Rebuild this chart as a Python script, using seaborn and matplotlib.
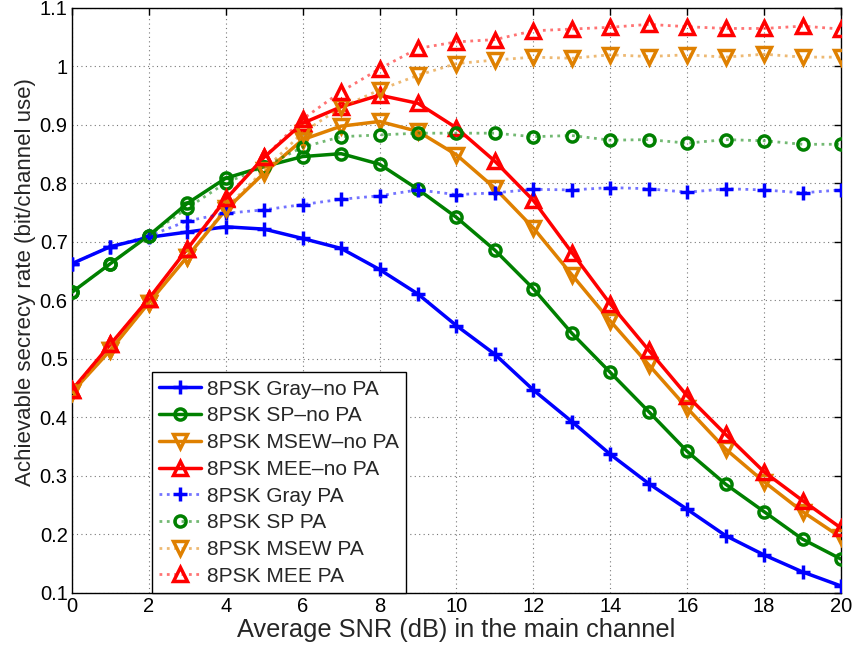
import numpy as np
import pandas as pd
import matplotlib
matplotlib.use("Agg")
import matplotlib.pyplot as plt
import seaborn as sns

snr = list(range(0, 21))

gray_nopa = [0.663, 0.692, 0.708, 0.717, 0.726, 0.722, 0.706, 0.689, 0.653, 0.611, 0.557,
             0.508, 0.447, 0.393, 0.337, 0.287, 0.243, 0.198, 0.165, 0.136, 0.112]
sp_nopa = [0.614, 0.663, 0.711, 0.766, 0.809, 0.829, 0.846, 0.851, 0.833, 0.790, 0.742,
           0.686, 0.620, 0.544, 0.477, 0.410, 0.342, 0.286, 0.239, 0.192, 0.158]
msew_nopa = [0.443, 0.515, 0.596, 0.675, 0.755, 0.818, 0.875, 0.898, 0.906, 0.889, 0.849,
             0.792, 0.724, 0.644, 0.565, 0.490, 0.416, 0.346, 0.290, 0.239, 0.195]
mee_nopa = [0.447, 0.525, 0.603, 0.688, 0.773, 0.845, 0.903, 0.931, 0.951, 0.937, 0.895,
            0.838, 0.771, 0.682, 0.594, 0.515, 0.437, 0.371, 0.307, 0.258, 0.211]
gray_pa = [0.663, 0.692, 0.710, 0.736, 0.749, 0.755, 0.764, 0.773, 0.779, 0.789, 0.781,
           0.784, 0.790, 0.789, 0.793, 0.791, 0.785, 0.791, 0.789, 0.784, 0.789]
sp_pa = [0.614, 0.663, 0.711, 0.758, 0.801, 0.829, 0.862, 0.880, 0.883, 0.886, 0.886,
         0.886, 0.880, 0.882, 0.874, 0.875, 0.869, 0.875, 0.873, 0.867, 0.867]
msew_pa = [0.443, 0.515, 0.596, 0.675, 0.758, 0.823, 0.887, 0.930, 0.960, 0.985, 1.005,
           1.011, 1.016, 1.014, 1.020, 1.017, 1.020, 1.016, 1.021, 1.016, 1.016]
mee_pa = [0.447, 0.525, 0.603, 0.688, 0.775, 0.845, 0.910, 0.957, 0.996, 1.031, 1.042,
          1.046, 1.061, 1.064, 1.067, 1.072, 1.068, 1.065, 1.065, 1.069, 1.064]

labels = ["8PSK Gray–no PA", "8PSK SP–no PA", "8PSK MSEW–no PA", "8PSK MEE–no PA",
          "8PSK Gray PA", "8PSK SP PA", "8PSK MSEW PA", "8PSK MEE PA"]
series = [gray_nopa, sp_nopa, msew_nopa, mee_nopa, gray_pa, sp_pa, msew_pa, mee_pa]

xticks = list(range(0, 21, 2))
yticks = [0.1, 0.2, 0.3, 0.4, 0.5, 0.6, 0.7, 0.8, 0.9, 1.0, 1.1]
ytick_labels = ["0.1", "0.2", "0.3", "0.4", "0.5", "0.6", "0.7", "0.8", "0.9", "1", "1.1"]

colors = ["#0000ff", "#008000", "#df8000", "#ff0000"] * 2
markers = ["+", "o", "v", "^"] * 2
msizes = [10, 8, 10, 10] * 2

sns.set_style("white")
plt.rcParams['font.family'] = ['Liberation Sans', 'DejaVu Sans']

fig = plt.figure(figsize=(8.56, 6.49), dpi=100)
ax = fig.add_axes([0.084, 0.0863, 0.8985, 0.9014])

for i, (lab, vals) in enumerate(zip(labels, series)):
    df = pd.DataFrame({"snr": snr, "rate": vals})
    pa = i >= 4
    sns.lineplot(data=df, x="snr", y="rate", ax=ax, label=lab, color=colors[i],
                 linestyle=":" if pa else "-", linewidth=2.0 if pa else 2.5,
                 marker=markers[i], markersize=msizes[i], markeredgewidth=2.5,
                 markerfacecolor="none", markeredgecolor=colors[i],
                 alpha=1.0, zorder=3)
    if pa:
        ax.lines[-1].set_alpha(None)
        ax.lines[-1].set_color(matplotlib.colors.to_rgba(colors[i], 0.55))
        ax.lines[-1].set_markeredgecolor(colors[i])

ax.set_xlim(0, 20)
ax.set_ylim(0.1, 1.1)
ax.set_xticks(xticks)
ax.set_xticklabels([str(t) for t in xticks])
ax.set_yticks(yticks)
ax.set_yticklabels(ytick_labels)
ax.tick_params(direction="in", length=5, width=1, top=True, right=True,
               labelsize=14.5, pad=3, colors="black")
ax.grid(True, linestyle=(0, (1, 3)), color="#555555", linewidth=0.8, alpha=0.8)
for s in ax.spines.values():
    s.set_visible(True)
    s.set_color("black")
    s.set_linewidth(1.0)
ax.set_xlabel("Average SNR (dB) in the main channel", fontsize=18.3, labelpad=1)
ax.set_ylabel("Achievable secrecy rate (bit/channel use)", fontsize=16)
ax.yaxis.set_label_coords(-0.047, 0.531)

leg = ax.legend(loc="lower left", bbox_to_anchor=(0.104, 0.0), fontsize=15,
                frameon=True, fancybox=False, framealpha=1, edgecolor="black",
                handlelength=2.0, labelspacing=0.37, borderpad=0.35, handletextpad=0.3,
                borderaxespad=0)
leg.get_frame().set_linewidth(1.0)

fig.savefig("out.png", dpi=100)
